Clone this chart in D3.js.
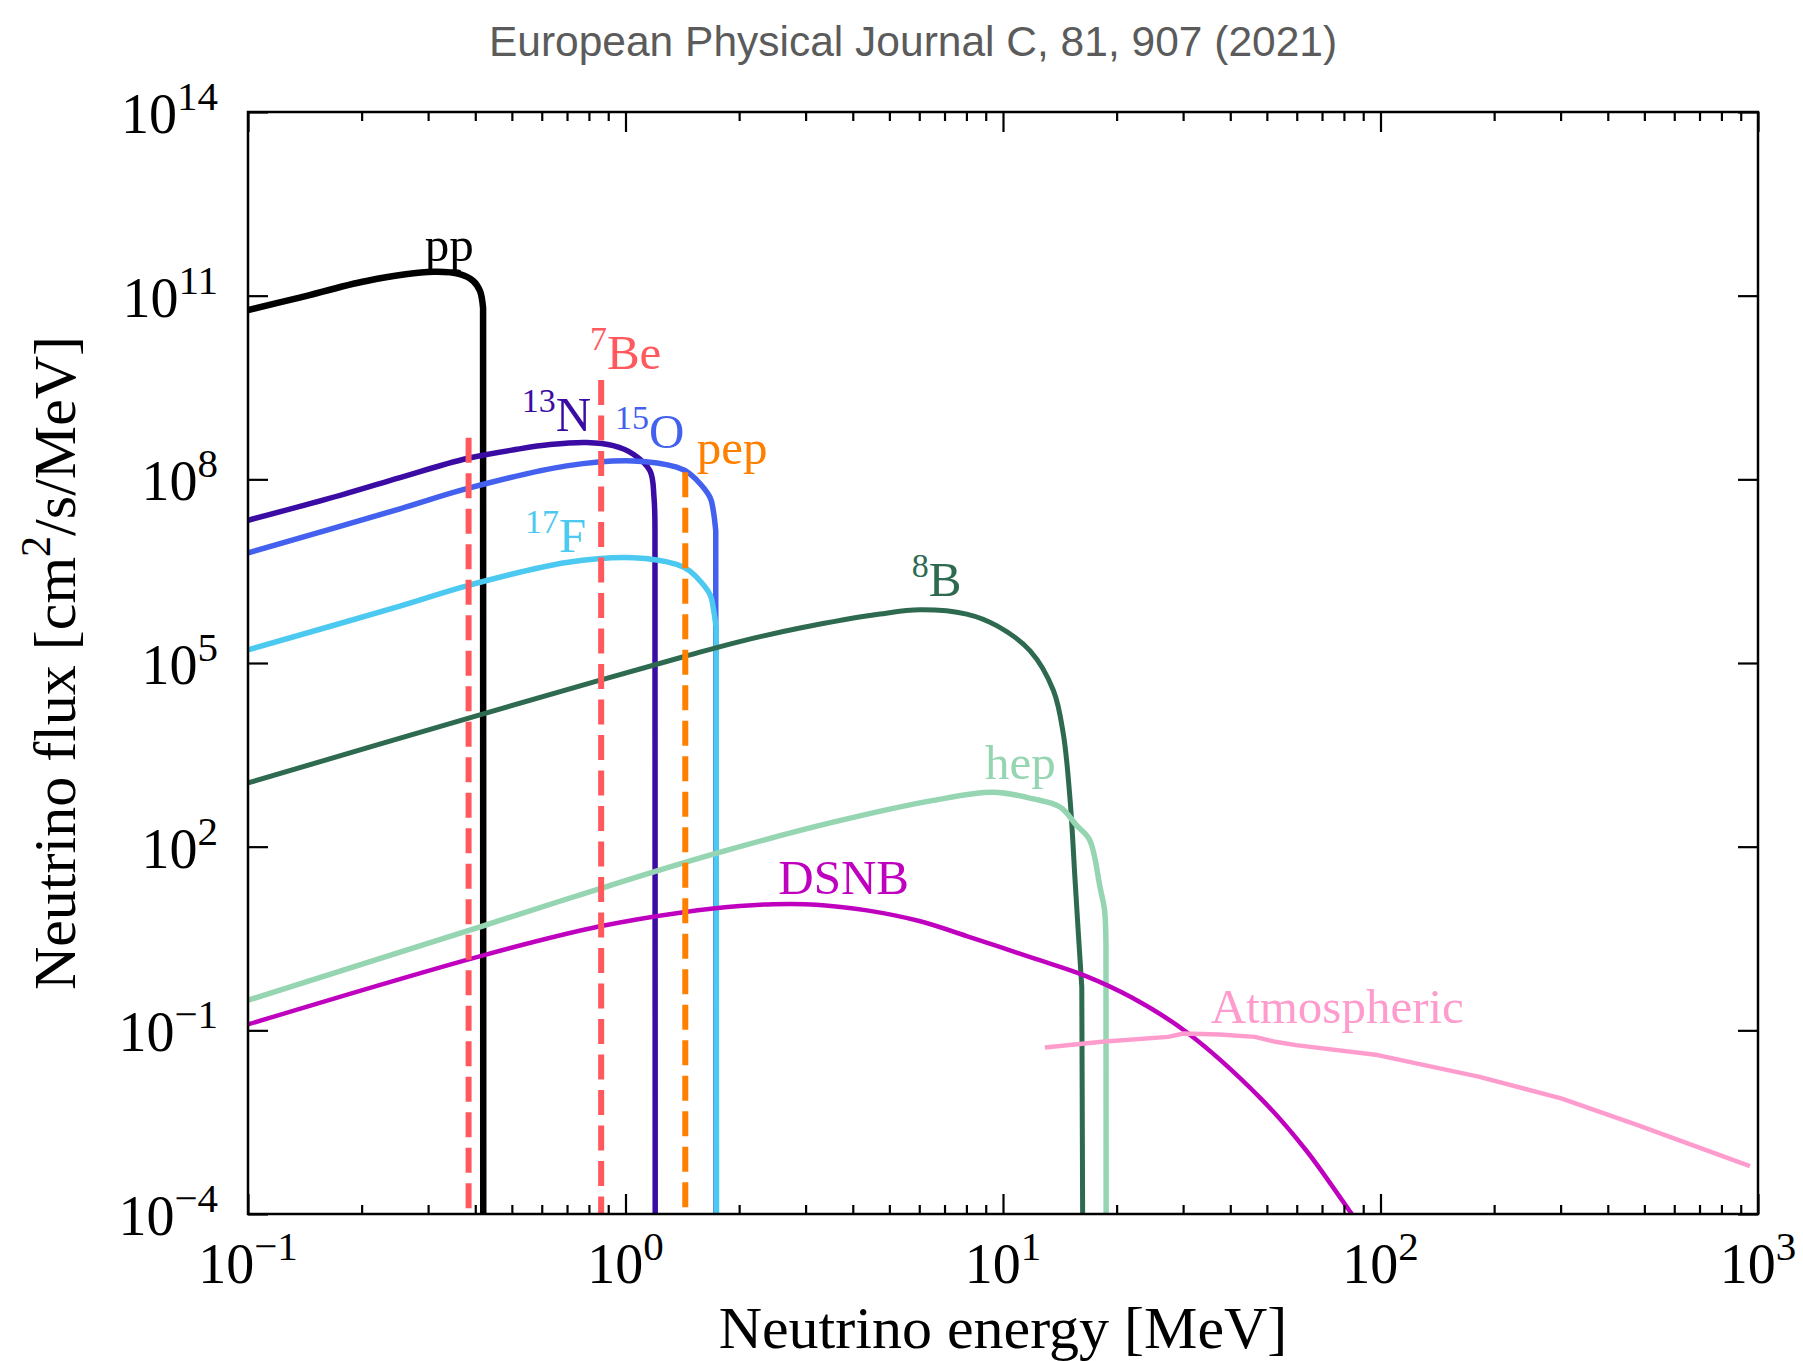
<!DOCTYPE html>
<html>
<head>
<meta charset="utf-8">
<title>Solar neutrino flux</title>
<script src="https://cdn.jsdelivr.net/npm/d3@7/dist/d3.min.js"></script>
<style>
  body { margin: 0; background: #ffffff; }
  svg text { font-family: "Liberation Serif", "Times New Roman", Times, serif; }
</style>
</head>
<body>
<div id="chart"></div>
<script>

// energies in MeV, fluxes in cm^-2 s^-1 MeV^-1
// last point of a spectrum sits at its endpoint, far below the axis
var ppEnergy = [0.1, 0.137, 0.206, 0.31, 0.364, 0.395, 0.4115, 0.4195, 0.42];
var ppFlux = [5.8e10, 9.3e10, 1.74e11, 2.45e11, 2.24e11, 1.74e11, 1.2e11, 6.3e10, 1e-6];

var n13Energy = [0.1, 0.18, 0.2527, 0.38, 0.515, 0.631, 0.789, 0.928, 1.049, 1.161, 1.19, 1.197, 1.199];
var n13Flux = [2.14e7, 5.75e7, 1.07e8, 2.19e8, 3.09e8, 3.7e8, 4.0e8, 3.55e8, 2.57e8, 1.38e8, 5.0e7, 1.0e7, 1e-6];

var o15Energy = [0.1, 0.2527, 0.382, 0.698, 1.049, 1.366, 1.482, 1.674, 1.708, 1.734, 1.737];
var o15Flux = [6.3e6, 3.3e7, 7.1e7, 1.66e8, 2.0e8, 1.58e8, 1.23e8, 5.1e7, 3.1e7, 1.45e7, 1e-6];

var f17Energy = [0.1, 0.2527, 0.382, 0.698, 1.049, 1.366, 1.482, 1.674, 1.708, 1.738, 1.743];
var f17Flux = [1.64e5, 8.5e5, 1.84e6, 4.37e6, 5.25e6, 4.07e6, 3.16e6, 1.32e6, 7.9e5, 3.8e5, 1e-6];

var b8Energy = [0.1, 0.42, 0.858, 1.44, 2.006, 2.9, 4.72, 6.03, 8.01, 9.62, 11.8, 13.6, 14.45, 15.05, 15.54, 15.85, 16.17, 16.3];
var b8Flux = [1.1e3, 1.48e4, 5.25e4, 1.29e5, 2.24e5, 3.72e5, 6.3e5, 7.4e5, 6.3e5, 4.07e5, 1.58e5, 3.55e4, 6.9e3, 6.0e2, 25, 3.5, 0.51, 1e-6];

var hepEnergy = [0.1, 0.42, 0.856, 1.726, 3.55, 6.54, 9.43, 12.03, 14.16, 15.67, 16.95, 18.07, 18.58, 18.74, 18.77];
var hepFlux = [0.31, 5.1, 20.7, 76.9, 251, 570, 776, 603, 444, 222, 130, 21.9, 9.1, 2.5, 1e-6];

var dsnbEnergy = [0.1, 0.42, 0.856, 1.44, 2.006, 2.46, 3.2, 4.36, 6.0, 8.01, 12.03, 16.4, 22.0, 30.6, 48.0, 63.5, 79.0, 90];
var dsnbFlux = [0.125, 1.68, 5.0, 8.6, 10.7, 11.5, 11.3, 9.1, 6.1, 3.47, 1.51, 0.79, 0.34, 0.094, 7.9e-3, 1.1e-3, 1.7e-4, 5.4e-5];

var atmEnergy = [12.91, 18.29, 27.4, 30.1, 37.4, 46.5, 52.7, 59.7, 98.2, 183, 301, 480, 952];
var atmFlux = [0.0525, 0.0649, 0.0782, 0.0889, 0.0857, 0.0782, 0.0649, 0.0573, 0.0394, 0.0174, 7.73e-3, 2.83e-3, 6.07e-4];

// line sources (cm^-2 s^-1), drawn as dashed markers
var be7Energy = [0.384, 0.862];
var be7Flux = [4.8e8, 4.2e9];
var pepEnergy = [1.44];
var pepFlux = [1.3e8];

// decade exponents that get a labelled tick
var xTickExps = [-1, 0, 1, 2, 3];
var yTickExps = [-4, -1, 2, 5, 8, 11, 14];


//SVG area
var svgWidth = 1803;
var svgHeight = 1361;
var margin = {top: 112, right: 45, bottom: 147, left: 248};
var width = svgWidth - margin.left - margin.right;
var height = svgHeight - margin.top - margin.bottom;

var svg = d3.select("#chart")
    .append("svg")
    .attr("width", svgWidth)
    .attr("height", svgHeight)
    .style("background", "#fff");

var chartGroup = svg.append("g")
    .attr("transform", `translate(${margin.left}, ${margin.top})`);

var x = d3.scaleLog().domain([0.1, 1000]).range([0, width]);
var y = d3.scaleLog().domain([1e-4, 1e14]).range([height, 0]);

// title
svg.append("text")
    .attr("x", 913)
    .attr("y", 56)
    .attr("text-anchor", "middle")
    .style("font-family", "'Liberation Sans', Arial, sans-serif")
    .attr("font-size", 42.5)
    .attr("fill", "#5b5b5b")
    .text("European Physical Journal C, 81, 907 (2021)");

chartGroup.append("clipPath").attr("id", "plotClip")
    .append("rect").attr("width", width).attr("height", height);

var plot = chartGroup.append("g").attr("clip-path", "url(#plotClip)");

var series = [
    {E: ppEnergy, F: ppFlux, color: "#000000", w: 6.5, drop: true},
    {E: n13Energy, F: n13Flux, color: "#3a0ca3", w: 5.5, drop: true},
    {E: o15Energy, F: o15Flux, color: "#4361ee", w: 5.5, drop: true},
    {E: f17Energy, F: f17Flux, color: "#4cc9f0", w: 5.5, drop: true},
    {E: b8Energy, F: b8Flux, color: "#2d6a4f", w: 5, drop: true},
    {E: hepEnergy, F: hepFlux, color: "#95d5b2", w: 5.5, drop: true},
    {E: dsnbEnergy, F: dsnbFlux, color: "#bf00bf", w: 4.5},
    {E: atmEnergy, F: atmFlux, color: "#ff9cce", w: 4.5, linear: true}
];

series.forEach(function(s) {
    var pts = s.E.map((e, i) => [e, s.F[i]]);
    var line = d3.line()
        .x(d => x(d[0]))
        .y(d => y(d[1]))
        .curve(s.linear ? d3.curveLinear : d3.curveCatmullRom.alpha(0.5));
    var d;
    if (s.drop) {
        // smooth body, then a straight fall at the endpoint
        var last = pts[pts.length - 1];
        d = line(pts.slice(0, -1)) + "L" + x(last[0]) + "," + y(last[1]);
    } else {
        d = line(pts);
    }
    plot.append("path")
        .attr("d", d)
        .attr("fill", "none")
        .attr("stroke", s.color)
        .attr("stroke-width", s.w)
        .attr("stroke-linejoin", "round");
});

// dashed lines for the mono-energetic sources, from their height down
function dashedLines(energies, fluxes, color) {
    energies.forEach(function(e, i) {
        plot.append("line")
            .attr("x1", x(e)).attr("x2", x(e))
            .attr("y1", y(fluxes[i])).attr("y2", y(1e-5))
            .attr("stroke", color)
            .attr("stroke-width", 6)
            .attr("stroke-dasharray", "25,10.5");
    });
}
dashedLines(be7Energy, be7Flux, "#ff595e");
dashedLines(pepEnergy, pepFlux, "#ff8000");

// frame and inward ticks on all sides
var xMajor = xTickExps.map(e => Math.pow(10, e));
var xMinor = [];
xTickExps.slice(0, -1).forEach(function(e) {
    for (var k = 2; k <= 9; k++) xMinor.push(k * Math.pow(10, e));
});
var yMajor = yTickExps.map(e => Math.pow(10, e));

function tickAxis(axis, transform) {
    var g = chartGroup.append("g")
        .attr("transform", transform)
        .call(axis.tickFormat("").tickSizeOuter(0));
    g.select(".domain").remove();
    g.selectAll(".tick line").attr("stroke", "#000").attr("stroke-width", 2.2);
}
tickAxis(d3.axisBottom(x).tickValues(xMajor).tickSizeInner(-20), `translate(0, ${height})`);
tickAxis(d3.axisBottom(x).tickValues(xMinor).tickSizeInner(-9), `translate(0, ${height})`);
tickAxis(d3.axisTop(x).tickValues(xMajor).tickSizeInner(-20), "translate(0, 0)");
tickAxis(d3.axisTop(x).tickValues(xMinor).tickSizeInner(-9), "translate(0, 0)");
tickAxis(d3.axisLeft(y).tickValues(yMajor).tickSizeInner(-20), "translate(0, 0)");
tickAxis(d3.axisRight(y).tickValues(yMajor).tickSizeInner(-20), `translate(${width}, 0)`);

chartGroup.append("rect")
    .attr("width", width)
    .attr("height", height)
    .attr("fill", "none")
    .attr("stroke", "#000")
    .attr("stroke-width", 2.5);

// 10^n tick labels
function powerLabel(t, exp) {
    t.append("tspan").text("10");
    t.append("tspan")
        .attr("dy", -23)
        .attr("font-size", 41)
        .text(exp < 0 ? "\u2212" + (-exp) : String(exp));
}

xTickExps.forEach(function(e) {
    var t = chartGroup.append("text")
        .attr("x", x(Math.pow(10, e)))
        .attr("y", height + 69)
        .attr("text-anchor", "middle")
        .attr("font-size", 56);
    powerLabel(t, e);
});

yTickExps.forEach(function(e) {
    var t = chartGroup.append("text")
        .attr("x", -30)
        .attr("y", y(Math.pow(10, e)) + 21)
        .attr("text-anchor", "end")
        .attr("font-size", 56);
    powerLabel(t, e);
});

// axis titles
chartGroup.append("text")
    .attr("x", width / 2)
    .attr("y", height + 134)
    .attr("text-anchor", "middle")
    .attr("font-size", 60)
    .text("Neutrino energy [MeV]");

var yTitle = svg.append("text")
    .attr("transform", `translate(75, ${margin.top + height / 2}) rotate(-90)`)
    .attr("text-anchor", "middle")
    .attr("font-size", 60);
yTitle.append("tspan").text("Neutrino flux [cm");
yTitle.append("tspan").attr("dy", -25).attr("font-size", 42).text("2");
yTitle.append("tspan").attr("dy", 25).text("/s/MeV]");

// curve labels, anchored at (energy, flux) of their left baseline point
function curveLabel(sup, main, e, f, color) {
    var t = chartGroup.append("text")
        .attr("x", x(e))
        .attr("y", y(f))
        .attr("font-size", 49)
        .attr("fill", color);
    if (sup) {
        t.append("tspan").attr("dy", -19).attr("font-size", 34).text(sup);
        t.append("tspan").attr("dy", 19).text(main);
    } else {
        t.text(main);
    }
}
curveLabel(null, "pp", 0.294, 3.7e11, "#000000");
curveLabel("7", "Be", 0.805, 6.3e9, "#ff595e");
curveLabel("13", "N", 0.531, 6.2e8, "#3a0ca3");
curveLabel("15", "O", 0.938, 3.3e8, "#4361ee");
curveLabel(null, "pep", 1.544, 1.78e8, "#ff8000");
curveLabel("17", "F", 0.542, 6.4e6, "#4cc9f0");
curveLabel("8", "B", 5.73, 1.26e6, "#2d6a4f");
curveLabel(null, "hep", 8.96, 1.29e3, "#95d5b2");
curveLabel(null, "DSNB", 2.54, 17.1, "#bf00bf");
curveLabel(null, "Atmospheric", 35.5, 0.132, "#ff9cce");

</script>
</body>
</html>
